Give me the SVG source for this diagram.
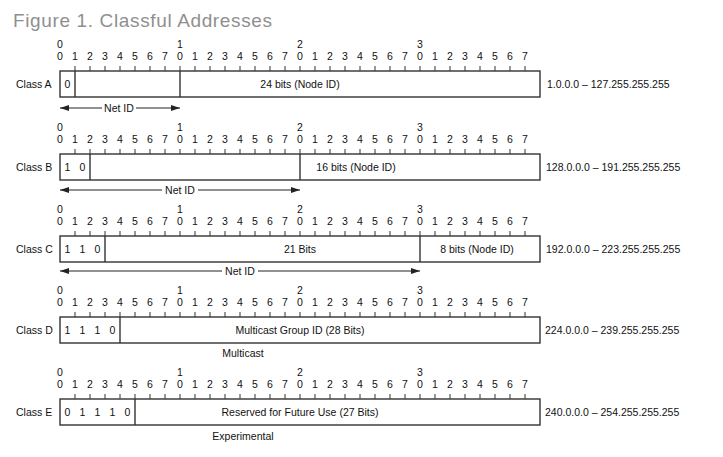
<svg xmlns="http://www.w3.org/2000/svg" xmlns:xlink="http://www.w3.org/1999/xlink" width="723" height="457" viewBox="0 0 723 457">
<style>
text{font-family:"Liberation Sans",Arial,Helvetica,sans-serif;font-size:10.5px;fill:#111}
.title{font-size:19px;fill:#8f8f8f}
.m{text-anchor:middle}
.box{fill:#fff;stroke:#333;stroke-width:1.4}
.div{stroke:#333;stroke-width:1.4;fill:none}
.tick{stroke:#333;stroke-width:1;fill:none}
.dim{stroke:#222;stroke-width:1;fill:none;marker-end:url(#ah)}
</style>
<defs>
<marker id="ah" markerUnits="userSpaceOnUse" markerWidth="9" markerHeight="6" refX="9" refY="3" orient="auto"><path d="M0,0L9,3L0,6z" fill="#222"/></marker>
<g id="ruler">
<text class="m" y="-23" x="60 180 300 420">0123</text>
<text class="m" y="-11" x="60 75 90 105 120 135 150 165 180 195 210 225 240 255 270 285 300 315 330 345 360 375 390 405 420 435 450 465 480 495 510 525">01234567012345670123456701234567</text>
<path class="tick" d="M75-5v5M90-5v5M105-5v5M120-5v5M135-5v5M150-5v5M165-5v5M180-5v5M195-5v5M210-5v5M225-5v5M240-5v5M255-5v5M270-5v5M285-5v5M300-5v5M315-5v5M330-5v5M345-5v5M360-5v5M375-5v5M390-5v5M405-5v5M420-5v5M435-5v5M450-5v5M465-5v5M480-5v5M495-5v5M510-5v5M525-5v5"/>
</g>
</defs>
<text class="title" x="13" y="26.5" textLength="259" lengthAdjust="spacing">Figure 1.  Classful Addresses</text>

<g id="classA" transform="translate(0,71)">
<use xlink:href="#ruler"/>
<rect class="box" x="60" y="0" width="480" height="26"/>
<path class="div" d="M75 0v26M180 0v26"/>
<text x="16" y="16.8">Class A</text>
<text class="m" x="67.5" y="16.8">0</text>
<text class="m" x="300" y="16.8">24 bits (Node ID)</text>
<text x="547" y="16.8">1.0.0.0 – 127.255.255.255</text>
</g>

<g id="classB" transform="translate(0,154)">
<use xlink:href="#ruler"/>
<rect class="box" x="60" y="0" width="480" height="26"/>
<path class="div" d="M90 0v26M300 0v26"/>
<text x="16" y="16.8">Class B</text>
<text class="m" x="67.5 82.5" y="16.8">10</text>
<text class="m" x="356" y="16.8">16 bits (Node ID)</text>
<text x="546" y="16.8">128.0.0.0 – 191.255.255.255</text>
</g>

<g id="classC" transform="translate(0,236)">
<use xlink:href="#ruler"/>
<rect class="box" x="60" y="0" width="480" height="26"/>
<path class="div" d="M105 0v26M420 0v26"/>
<text x="16" y="16.8">Class C</text>
<text class="m" x="67.5 82.5 97.5" y="16.8">110</text>
<text class="m" x="300" y="16.8">21 Bits</text>
<text class="m" x="477" y="16.8">8 bits (Node ID)</text>
<text x="546" y="16.8">192.0.0.0 – 223.255.255.255</text>
</g>

<g id="classD" transform="translate(0,317)">
<use xlink:href="#ruler"/>
<rect class="box" x="60" y="0" width="480" height="26"/>
<path class="div" d="M120 0v26"/>
<text x="16" y="16.8">Class D</text>
<text class="m" x="67.5 82.5 97.5 112.5" y="16.8">1110</text>
<text class="m" x="300" y="16.8">Multicast Group ID (28 Bits)</text>
<text x="545" y="16.8">224.0.0.0 – 239.255.255.255</text>
<text class="m" x="243" y="40">Multicast</text>
</g>

<g id="classE" transform="translate(0,399)">
<use xlink:href="#ruler"/>
<rect class="box" x="60" y="0" width="480" height="26"/>
<path class="div" d="M135 0v26"/>
<text x="16" y="16.8">Class E</text>
<text class="m" x="67.5 82.5 97.5 112.5 127.5" y="16.8">01110</text>
<text class="m" x="300" y="16.8">Reserved for Future Use (27 Bits)</text>
<text x="545" y="16.8">240.0.0.0 – 254.255.255.255</text>
<text class="m" x="243" y="41">Experimental</text>
</g>

<g id="connectors">
<line class="dim" x1="102" y1="108" x2="60" y2="108"/>
<line class="dim" x1="136" y1="108" x2="180" y2="108"/>
<text class="m" x="119" y="111.8">Net ID</text>
<line class="dim" x1="162" y1="190" x2="60" y2="190"/>
<line class="dim" x1="198" y1="190" x2="300" y2="190"/>
<text class="m" x="180" y="193.8">Net ID</text>
<line class="dim" x1="222" y1="271" x2="60" y2="271"/>
<line class="dim" x1="258" y1="271" x2="420" y2="271"/>
<text class="m" x="240" y="274.8">Net ID</text>
</g>
</svg>
